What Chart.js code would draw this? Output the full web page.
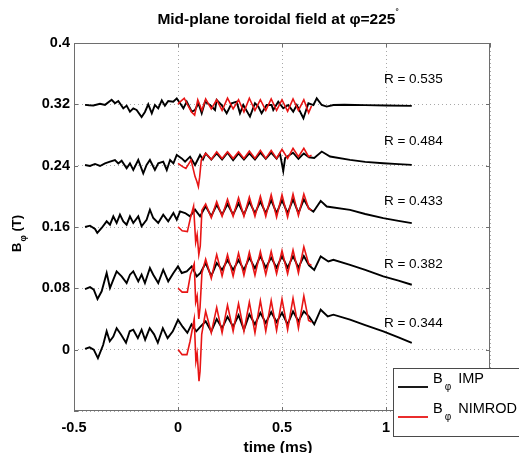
<!DOCTYPE html>
<html>
<head>
<meta charset="utf-8">
<title>Mid-plane toroidal field</title>
<script src="https://cdn.jsdelivr.net/npm/chart.js@4.4.1/dist/chart.umd.min.js"></script>
<style>
    html, body { margin: 0; padding: 0; background: #ffffff; }
    #chartBox { width: 519px; height: 453px; }
</style>
</head>
<body>
<div id="chartBox"><canvas id="fieldChart" width="519" height="453"></canvas></div>
<script>
// Axis ticks and labels as they appear in the figure.
var xTicks = [-0.5, 0, 0.5, 1, 1.5];
var xTickLabels = ["-0.5", "0", "0.5", "1", "1.5"];
var yTicks = [-0.08, 0, 0.08, 0.16, 0.24, 0.32, 0.4];
var yTickLabels = ["", "0", "0.08", "0.16", "0.24", "0.32", "0.4"];

// Probe radius labels, with the place where the text sits (time, field).
var probeRadius = ["R = 0.535", "R = 0.484", "R = 0.433", "R = 0.382", "R = 0.344"];
var probeLabelTime = [0.99, 0.99, 0.99, 0.99, 0.99];
var probeLabelField = [0.353, 0.272, 0.193, 0.112, 0.034];

// Measured signal (IMP), [time in ms, B_phi in T], one trace per probe.
var impR535 = [[-0.447, 0.3193], [-0.427, 0.3188], [-0.407, 0.3185], [-0.375, 0.3207], [-0.351, 0.3193], [-0.319, 0.3259], [-0.303, 0.3214], [-0.287, 0.3244], [-0.263, 0.3147], [-0.247, 0.3183], [-0.231, 0.3104], [-0.215, 0.3148], [-0.199, 0.3126], [-0.175, 0.3035], [-0.159, 0.3100], [-0.143, 0.3200], [-0.126, 0.3083], [-0.111, 0.3191], [-0.095, 0.3148], [-0.078, 0.3252], [-0.063, 0.3183], [-0.047, 0.3244], [-0.023, 0.3235], [-0.006, 0.3278], [0.010, 0.3214], [0.026, 0.3148], [0.042, 0.3235], [0.066, 0.3105], [0.082, 0.3126], [0.098, 0.3214], [0.114, 0.3083], [0.130, 0.3235], [0.154, 0.3191], [0.178, 0.3126], [0.186, 0.3257], [0.210, 0.3191], [0.234, 0.3083], [0.258, 0.3214], [0.282, 0.3235], [0.298, 0.3083], [0.314, 0.3191], [0.346, 0.3040], [0.370, 0.3214], [0.386, 0.3170], [0.402, 0.3083], [0.426, 0.3191], [0.450, 0.3191], [0.458, 0.3126], [0.482, 0.3235], [0.506, 0.3148], [0.530, 0.3191], [0.554, 0.3104], [0.571, 0.3191], [0.603, 0.3018], [0.627, 0.3214], [0.651, 0.3191], [0.667, 0.3278], [0.691, 0.3191], [0.715, 0.3170], [0.747, 0.3191], [0.800, 0.3195], [0.900, 0.3190], [1.000, 0.3185], [1.124, 0.3180]];
var impR484 = [[-0.447, 0.2409], [-0.423, 0.2396], [-0.399, 0.2422], [-0.375, 0.2396], [-0.351, 0.2430], [-0.327, 0.2452], [-0.303, 0.2474], [-0.287, 0.2430], [-0.271, 0.2465], [-0.247, 0.2365], [-0.231, 0.2430], [-0.215, 0.2344], [-0.191, 0.2474], [-0.167, 0.2300], [-0.151, 0.2409], [-0.135, 0.2474], [-0.111, 0.2344], [-0.095, 0.2430], [-0.071, 0.2452], [-0.054, 0.2344], [-0.038, 0.2474], [-0.022, 0.2430], [-0.006, 0.2539], [0.018, 0.2495], [0.034, 0.2452], [0.058, 0.2517], [0.082, 0.2409], [0.106, 0.2539], [0.120, 0.2480], [0.133, 0.2560], [0.160, 0.2480], [0.186, 0.2560], [0.212, 0.2480], [0.238, 0.2570], [0.265, 0.2470], [0.291, 0.2560], [0.317, 0.2480], [0.343, 0.2560], [0.370, 0.2480], [0.396, 0.2570], [0.422, 0.2490], [0.448, 0.2570], [0.474, 0.2490], [0.490, 0.2560], [0.506, 0.2330], [0.515, 0.2500], [0.553, 0.2570], [0.579, 0.2490], [0.605, 0.2560], [0.630, 0.2510], [0.655, 0.2500], [0.691, 0.2584], [0.731, 0.2519], [0.827, 0.2476], [0.900, 0.2450], [0.987, 0.2432], [1.060, 0.2420], [1.124, 0.2410]];
var impR433 = [[-0.447, 0.1600], [-0.423, 0.1617], [-0.399, 0.1574], [-0.388, 0.1522], [-0.367, 0.1587], [-0.343, 0.1674], [-0.327, 0.1630], [-0.311, 0.1739], [-0.295, 0.1652], [-0.279, 0.1761], [-0.263, 0.1674], [-0.247, 0.1630], [-0.231, 0.1739], [-0.215, 0.1652], [-0.191, 0.1739], [-0.175, 0.1609], [-0.151, 0.1695], [-0.135, 0.1826], [-0.119, 0.1717], [-0.095, 0.1652], [-0.071, 0.1761], [-0.047, 0.1674], [-0.022, 0.1782], [-0.006, 0.1695], [0.010, 0.1804], [0.034, 0.1782], [0.058, 0.1739], [0.082, 0.1826], [0.106, 0.1739], [0.133, 0.1870], [0.160, 0.1740], [0.186, 0.1890], [0.212, 0.1760], [0.238, 0.1900], [0.265, 0.1760], [0.291, 0.1910], [0.317, 0.1760], [0.343, 0.1930], [0.370, 0.1780], [0.396, 0.1930], [0.422, 0.1780], [0.448, 0.1950], [0.474, 0.1780], [0.500, 0.1950], [0.527, 0.1780], [0.553, 0.1960], [0.579, 0.1780], [0.605, 0.1960], [0.630, 0.1840], [0.651, 0.1800], [0.686, 0.1941], [0.715, 0.1867], [0.827, 0.1824], [0.900, 0.1770], [0.987, 0.1716], [1.060, 0.1680], [1.124, 0.1650]];
var impR382 = [[-0.447, 0.0791], [-0.423, 0.0817], [-0.405, 0.0783], [-0.387, 0.0661], [-0.367, 0.0761], [-0.343, 0.1000], [-0.327, 0.0804], [-0.311, 0.0913], [-0.295, 0.1021], [-0.271, 0.0956], [-0.247, 0.0869], [-0.231, 0.0978], [-0.215, 0.1021], [-0.191, 0.0891], [-0.175, 0.0978], [-0.159, 0.0869], [-0.135, 0.1065], [-0.119, 0.0978], [-0.095, 0.0869], [-0.071, 0.1043], [-0.047, 0.0891], [-0.022, 0.1000], [0.000, 0.1086], [0.018, 0.1000], [0.042, 0.1021], [0.066, 0.1086], [0.090, 0.0956], [0.108, 0.1000], [0.133, 0.1130], [0.160, 0.0960], [0.186, 0.1130], [0.212, 0.1040], [0.238, 0.1170], [0.265, 0.1040], [0.291, 0.1170], [0.317, 0.1040], [0.343, 0.1200], [0.370, 0.1060], [0.396, 0.1220], [0.422, 0.1070], [0.448, 0.1200], [0.474, 0.1070], [0.500, 0.1220], [0.527, 0.1070], [0.553, 0.1220], [0.579, 0.1070], [0.605, 0.1220], [0.630, 0.1100], [0.655, 0.1040], [0.686, 0.1216], [0.723, 0.1151], [0.747, 0.1173], [0.827, 0.1107], [0.900, 0.1040], [0.987, 0.0955], [1.060, 0.0900], [1.124, 0.0847]];
var impR344 = [[-0.447, 0.0010], [-0.425, 0.0030], [-0.405, 0.0000], [-0.385, -0.0110], [-0.360, 0.0060], [-0.343, 0.0240], [-0.328, 0.0110], [-0.311, 0.0170], [-0.295, 0.0280], [-0.275, 0.0200], [-0.250, 0.0090], [-0.232, 0.0240], [-0.215, 0.0260], [-0.193, 0.0150], [-0.175, 0.0260], [-0.158, 0.0130], [-0.136, 0.0280], [-0.115, 0.0200], [-0.097, 0.0090], [-0.073, 0.0280], [-0.050, 0.0150], [-0.025, 0.0240], [0.000, 0.0390], [0.022, 0.0300], [0.045, 0.0220], [0.065, 0.0330], [0.088, 0.0240], [0.108, 0.0300], [0.133, 0.0370], [0.160, 0.0240], [0.186, 0.0400], [0.212, 0.0280], [0.238, 0.0430], [0.265, 0.0300], [0.291, 0.0450], [0.317, 0.0260], [0.343, 0.0460], [0.370, 0.0330], [0.396, 0.0480], [0.422, 0.0350], [0.448, 0.0490], [0.474, 0.0360], [0.500, 0.0480], [0.527, 0.0330], [0.553, 0.0500], [0.579, 0.0370], [0.605, 0.0500], [0.630, 0.0430], [0.655, 0.0330], [0.686, 0.0521], [0.720, 0.0434], [0.747, 0.0456], [0.827, 0.0391], [0.900, 0.0320], [0.987, 0.0239], [1.060, 0.0160], [1.124, 0.0087]];

// NIMROD simulation, [time in ms, B_phi in T], same probes.
var nimR535 = [[0.000, 0.3200], [0.005, 0.3220], [0.030, 0.3280], [0.045, 0.3200], [0.065, 0.3100], [0.080, 0.3060], [0.095, 0.3260], [0.115, 0.3120], [0.133, 0.3270], [0.160, 0.3140], [0.186, 0.3260], [0.212, 0.3120], [0.238, 0.3280], [0.265, 0.3140], [0.291, 0.3260], [0.317, 0.3100], [0.343, 0.3280], [0.370, 0.3120], [0.396, 0.3260], [0.422, 0.3120], [0.448, 0.3270], [0.474, 0.3120], [0.500, 0.3260], [0.527, 0.3110], [0.553, 0.3270], [0.579, 0.3120], [0.605, 0.3260], [0.628, 0.3090], [0.642, 0.3180]];
var nimR484 = [[0.000, 0.2430], [0.022, 0.2387], [0.038, 0.2365], [0.063, 0.2474], [0.082, 0.2257], [0.090, 0.2200], [0.098, 0.2127], [0.104, 0.2250], [0.112, 0.2474], [0.133, 0.2561], [0.160, 0.2482], [0.186, 0.2582], [0.212, 0.2495], [0.238, 0.2582], [0.265, 0.2495], [0.291, 0.2582], [0.317, 0.2495], [0.343, 0.2591], [0.370, 0.2495], [0.396, 0.2600], [0.422, 0.2495], [0.448, 0.2600], [0.474, 0.2495], [0.500, 0.2613], [0.527, 0.2495], [0.553, 0.2626], [0.579, 0.2517], [0.605, 0.2626], [0.628, 0.2517], [0.642, 0.2535]];
var nimR433 = [[0.000, 0.1600], [0.005, 0.1590], [0.020, 0.1550], [0.045, 0.1540], [0.060, 0.1720], [0.075, 0.1870], [0.085, 0.1400], [0.092, 0.1500], [0.100, 0.1240], [0.107, 0.1350], [0.115, 0.1820], [0.133, 0.1900], [0.160, 0.1720], [0.186, 0.1930], [0.212, 0.1740], [0.238, 0.1960], [0.265, 0.1740], [0.291, 0.1980], [0.317, 0.1740], [0.343, 0.1990], [0.370, 0.1740], [0.396, 0.2000], [0.422, 0.1740], [0.448, 0.2020], [0.474, 0.1730], [0.500, 0.2020], [0.527, 0.1730], [0.553, 0.2030], [0.579, 0.1750], [0.605, 0.2030], [0.628, 0.1840], [0.642, 0.1820]];
var nimR382 = [[0.000, 0.0800], [0.005, 0.0790], [0.020, 0.0750], [0.045, 0.0750], [0.060, 0.0980], [0.078, 0.1120], [0.085, 0.0620], [0.092, 0.0700], [0.100, 0.0400], [0.106, 0.0550], [0.115, 0.1000], [0.133, 0.1180], [0.160, 0.0930], [0.186, 0.1240], [0.212, 0.0960], [0.238, 0.1240], [0.265, 0.0960], [0.291, 0.1260], [0.317, 0.0970], [0.343, 0.1270], [0.370, 0.0970], [0.396, 0.1280], [0.422, 0.0980], [0.448, 0.1280], [0.474, 0.0990], [0.500, 0.1290], [0.527, 0.0990], [0.553, 0.1300], [0.579, 0.1000], [0.605, 0.1340], [0.628, 0.1120], [0.642, 0.1100]];
var nimR344 = [[0.000, 0.0000], [0.004, -0.0010], [0.020, -0.0065], [0.043, -0.0065], [0.058, 0.0110], [0.078, 0.0400], [0.086, -0.0150], [0.092, -0.0050], [0.101, -0.0410], [0.106, -0.0280], [0.114, 0.0200], [0.133, 0.0500], [0.160, 0.0220], [0.186, 0.0550], [0.212, 0.0220], [0.238, 0.0580], [0.265, 0.0240], [0.291, 0.0600], [0.317, 0.0240], [0.343, 0.0620], [0.370, 0.0220], [0.396, 0.0640], [0.422, 0.0240], [0.448, 0.0640], [0.474, 0.0250], [0.500, 0.0660], [0.527, 0.0260], [0.553, 0.0670], [0.579, 0.0280], [0.605, 0.0700], [0.628, 0.0380], [0.642, 0.0360]];

var impColor = "#000000";
var nimColor = "#e81515";
var textFont = "'Liberation Sans', Arial, Helvetica, sans-serif";

document.addEventListener("DOMContentLoaded", function () {
    setupFieldChart();
});

function setupFieldChart() {
    var canvas = document.getElementById("fieldChart");

    if (canvas == null || typeof Chart === "undefined") {
        return;
    }

    var impTraces = [impR535, impR484, impR433, impR382, impR344];
    var nimTraces = [nimR535, nimR484, nimR433, nimR382, nimR344];
    var datasets = [];

    for (var i = 0; i < impTraces.length; i++) {
        datasets.push(createDataset("B_phi IMP " + probeRadius[i], impTraces[i], impColor, 1.9, 1));
    }
    for (var j = 0; j < nimTraces.length; j++) {
        datasets.push(createDataset("B_phi NIMROD " + probeRadius[j], nimTraces[j], nimColor, 1.6, 0));
    }

    new Chart(canvas, {
        type: "line",
        data: { datasets: datasets },
        options: createChartOptions(),
        plugins: [figureDecorations]
    });
}

function createDataset(label, points, color, width, order) {
    return {
        label: label,
        data: points,
        borderColor: color,
        backgroundColor: color,
        borderWidth: width,
        pointRadius: 0,
        tension: 0,
        fill: false,
        order: order
    };
}

function tickLabel(values, labels, value) {
    for (var i = 0; i < values.length; i++) {
        if (Math.abs(values[i] - value) < 1e-9) {
            return labels[i];
        }
    }
    return "";
}

function createChartOptions() {
    var tickFont = { family: textFont, size: 14.5, weight: "bold" };
    var gridLines = { color: "#a8a8a8", lineWidth: 1, drawTicks: false };

    return {
        responsive: false,
        animation: false,
        devicePixelRatio: 1,
        layout: { padding: { top: 43, right: 29, left: 0, bottom: 0 } },
        plugins: {
            legend: { display: false },
            title: { display: false },
            tooltip: { enabled: false }
        },
        scales: {
            x: {
                type: "linear",
                min: -0.5,
                max: 1.5,
                afterBuildTicks: function (axis) {
                    axis.ticks = xTicks.map(function (v) { return { value: v }; });
                },
                afterFit: function (axis) {
                    axis.height = 42;
                },
                ticks: {
                    font: tickFont,
                    color: "#000",
                    padding: 8,
                    maxRotation: 0,
                    autoSkip: false,
                    callback: function (value) {
                        return tickLabel(xTicks, xTickLabels, value);
                    }
                },
                grid: gridLines,
                border: { display: false, dash: [1, 3] }
            },
            y: {
                type: "linear",
                min: -0.08,
                max: 0.4,
                afterBuildTicks: function (axis) {
                    axis.ticks = yTicks.map(function (v) { return { value: v }; });
                },
                afterFit: function (axis) {
                    axis.width = 74;
                },
                ticks: {
                    font: tickFont,
                    color: "#000",
                    padding: 4,
                    autoSkip: false,
                    callback: function (value) {
                        return tickLabel(yTicks, yTickLabels, value);
                    }
                },
                grid: gridLines,
                border: { display: false, dash: [1, 3] }
            }
        }
    };
}

// Text with a lowered (or raised) small part, as in B_phi.
function drawScriptText(ctx, x, y, parts, align) {
    var total = 0;
    var i;
    for (i = 0; i < parts.length; i++) {
        ctx.font = parts[i].font;
        total += ctx.measureText(parts[i].text).width + (parts[i].gap || 0);
    }
    var cx = align === "center" ? x - total / 2 : x;
    ctx.textAlign = "left";
    ctx.textBaseline = "alphabetic";
    for (i = 0; i < parts.length; i++) {
        ctx.font = parts[i].font;
        ctx.fillText(parts[i].text, cx, y + (parts[i].shift || 0));
        cx += ctx.measureText(parts[i].text).width + (parts[i].gap || 0);
    }
}

var figureDecorations = {
    id: "figureDecorations",
    afterDraw: function (chart) {
        var ctx = chart.ctx;
        var area = chart.chartArea;
        var xScale = chart.scales.x;
        var yScale = chart.scales.y;
        var bold = "bold 13px " + textFont;
        var big = "bold 15.5px " + textFont;
        var plain = "14.5px " + textFont;
        var i;

        ctx.save();

        // Axes box
        ctx.strokeStyle = "#6e6e6e";
        ctx.lineWidth = 1;
        ctx.strokeRect(area.left + 0.5, area.top + 0.5, area.right - area.left - 1, area.bottom - area.top - 1);

        // Inward tick marks on all four sides
        ctx.beginPath();
        for (i = 0; i < yTicks.length; i++) {
            var py = Math.round(yScale.getPixelForValue(yTicks[i])) + 0.5;
            ctx.moveTo(area.left, py);
            ctx.lineTo(area.left + 4, py);
            ctx.moveTo(area.right, py);
            ctx.lineTo(area.right - 4, py);
        }
        for (i = 0; i < xTicks.length; i++) {
            var px = Math.round(xScale.getPixelForValue(xTicks[i])) + 0.5;
            ctx.moveTo(px, area.bottom);
            ctx.lineTo(px, area.bottom - 4);
            ctx.moveTo(px, area.top);
            ctx.lineTo(px, area.top + 4);
        }
        ctx.stroke();

        // Probe radius labels
        ctx.fillStyle = "#000";
        ctx.font = "13.5px " + textFont;
        ctx.textAlign = "left";
        ctx.textBaseline = "middle";
        for (i = 0; i < probeRadius.length; i++) {
            ctx.fillText(probeRadius[i], xScale.getPixelForValue(probeLabelTime[i]), yScale.getPixelForValue(probeLabelField[i]));
        }

        // Title
        var midX = (area.left + area.right) / 2 - 4;
        drawScriptText(ctx, midX, 24, [
            { text: "Mid-plane toroidal field at \u03c6=225", font: big },
            { text: "\u00b0", font: "bold 8px " + textFont, shift: -10 }
        ], "center");

        // X axis title
        drawScriptText(ctx, midX, 452, [{ text: "time (ms)", font: big }], "center");

        // Y axis title, rotated
        ctx.save();
        ctx.translate(20.5, 252);
        ctx.rotate(-Math.PI / 2);
        drawScriptText(ctx, 0, 0, [
            { text: "B", font: bold, gap: 1 },
            { text: "\u03c6", font: "bold 9px " + textFont, shift: 5, gap: 0 },
            { text: " (T)", font: bold }
        ], "left");
        ctx.restore();

        // Legend box in the lower right corner, running past the edge
        var lx = area.right - 97;
        var ly = area.bottom - 43;
        ctx.fillStyle = "#ffffff";
        ctx.fillRect(lx, ly, 140, 69);
        ctx.strokeStyle = "#4a4a4a";
        ctx.strokeRect(lx + 0.5, ly + 0.5, 140, 68);

        var entries = [
            { color: impColor, name: "IMP", y: ly + 19 },
            { color: nimColor, name: "NIMROD", y: ly + 49 }
        ];
        for (i = 0; i < entries.length; i++) {
            ctx.strokeStyle = entries[i].color;
            ctx.lineWidth = 1.8;
            ctx.beginPath();
            ctx.moveTo(lx + 5, entries[i].y);
            ctx.lineTo(lx + 35, entries[i].y);
            ctx.stroke();
            ctx.fillStyle = "#000";
            drawScriptText(ctx, lx + 40, entries[i].y - 4, [
                { text: "B", font: plain, gap: 2 },
                { text: "\u03c6", font: "10px " + textFont, shift: 7, gap: 7 },
                { text: entries[i].name, font: plain }
            ], "left");
        }

        ctx.restore();
    }
};
</script>
</body>
</html>
